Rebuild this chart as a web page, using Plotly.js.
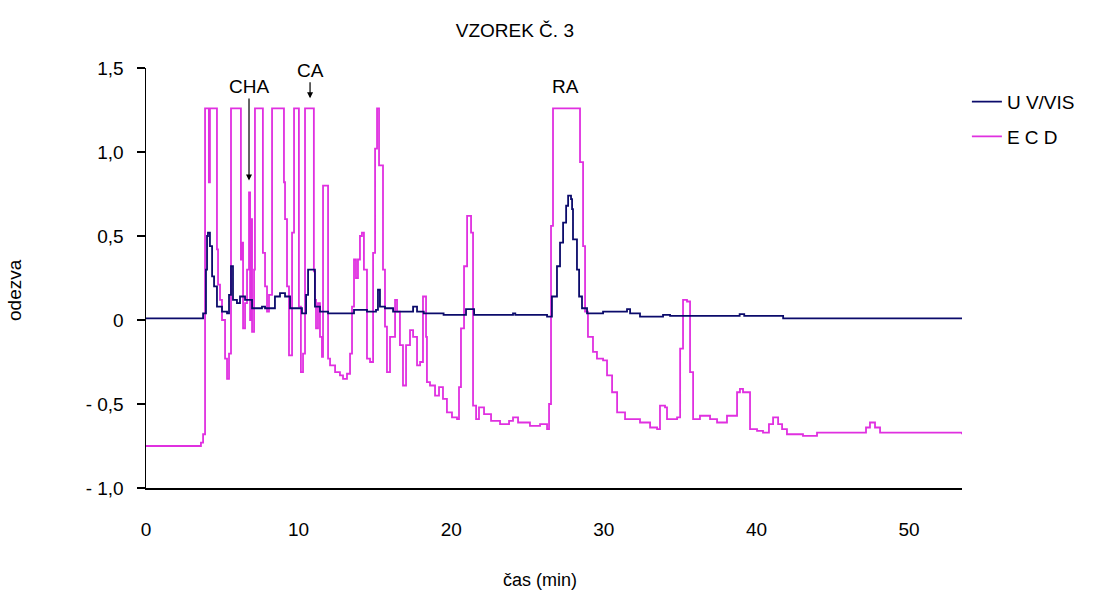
<!DOCTYPE html>
<html>
<head>
<meta charset="utf-8">
<script src="https://cdn.plot.ly/plotly-3.0.1.min.js"></script>
<style>html,body{margin:0;padding:0;background:#fff;}#chart{width:1105px;height:599px;}</style>
</head>
<body>
<div id="chart"></div>
<script>
// ---- data (time in min, response) ----
const uvTime = [0,3.54,3.74,3.93,4.00,4.06,4.19,4.33,4.46,4.65,4.98,5.31,5.44,5.57,5.70,5.96,6.16,6.49,6.95,7.60,7.80,8.26,8.45,8.78,9.11,9.44,10.22,10.49,10.62,10.94,11.07,11.40,11.93,13.17,13.63,14.48,15.07,15.20,15.33,15.66,16.19,17.30,17.50,17.76,18.20,19.50,20.77,20.97,21.30,21.50,23.90,24.05,24.20,26.28,26.60,26.93,27.13,27.33,27.53,27.66,27.85,27.92,27.98,28.24,28.38,28.57,28.90,29.95,31.39,31.52,31.72,32.37,33.49,33.88,34.34,38.73,38.90,39.20,41.68,41.75,53.47];
const uvValue = [0.01,0.01,0.04,0.30,0.50,0.52,0.44,0.26,0.20,0.08,0.05,0.04,0.15,0.32,0.12,0.10,0.14,0.12,0.07,0.08,0.07,0.07,0.14,0.16,0.14,0.07,0.04,0.15,0.30,0.30,0.08,0.05,0.04,0.04,0.06,0.05,0.06,0.18,0.08,0.07,0.05,0.05,0.08,0.05,0.04,0.03,0.03,0.065,0.065,0.03,0.03,0.04,0.03,0.02,0.14,0.32,0.46,0.58,0.68,0.74,0.72,0.66,0.48,0.30,0.14,0.07,0.04,0.05,0.05,0.065,0.04,0.02,0.02,0.03,0.025,0.025,0.035,0.025,0.025,0.01,0.01];

const ecdTime = [0,3.54,3.60,3.74,3.87,4.06,4.12,4.19,4.59,4.65,4.72,4.85,4.98,5.18,5.31,5.44,5.57,6.16,6.22,6.29,6.36,6.49,6.62,6.75,6.82,6.88,6.95,7.08,7.14,7.60,7.66,7.80,7.93,8.06,8.26,8.98,9.04,9.11,9.24,9.37,9.57,9.70,9.96,10.02,10.15,10.29,10.42,10.94,11.00,11.07,11.14,11.27,11.40,11.53,11.60,11.86,11.93,12.06,12.39,12.71,12.91,13.17,13.37,13.50,13.63,13.76,13.89,14.02,14.15,14.28,14.48,14.68,14.88,15.01,15.14,15.27,15.53,15.66,15.79,15.99,16.19,16.32,16.45,16.64,16.84,17.04,17.30,17.50,17.76,17.96,18.15,18.35,18.41,18.61,18.94,19.20,19.46,19.72,20.05,20.38,20.51,20.64,20.84,21.04,21.17,21.30,21.43,21.63,21.82,22.15,22.61,23.20,23.79,24.05,24.38,25.16,25.82,26.28,26.41,26.54,26.67,28.38,28.44,28.64,28.77,28.96,29.29,29.55,29.95,30.21,30.54,30.87,31.39,32.37,33.03,33.49,33.68,34.01,34.14,34.80,35.00,35.19,35.45,35.65,35.85,36.30,36.96,37.42,38.07,38.40,38.73,38.92,39.12,39.58,40.04,40.43,40.82,41.09,41.42,41.68,42.00,43.05,43.97,46.99,47.18,47.44,47.77,48.10,53.47];
const ecdValue = [-0.75,-0.75,-0.73,-0.68,1.26,1.26,0.82,1.26,1.26,0.42,0.21,0.12,0.00,-0.23,-0.35,-0.20,1.26,1.26,0.36,0.46,-0.05,0.10,0.30,0.76,0.00,0.60,-0.07,0.30,1.26,1.26,0.40,0.20,0.05,0.15,1.26,1.26,0.82,0.60,0.20,-0.21,0.52,1.26,1.26,0.08,-0.31,-0.20,1.26,1.26,0.29,0.12,-0.05,0.10,-0.10,-0.22,0.80,0.80,-0.23,-0.27,-0.31,-0.33,-0.35,-0.32,-0.20,0.08,0.36,0.25,0.36,0.50,0.52,0.30,-0.23,-0.25,0.40,1.02,1.26,0.92,0.30,-0.04,-0.31,-0.10,-0.10,0.12,0.05,-0.15,-0.39,-0.15,-0.06,-0.10,-0.27,-0.25,0.14,-0.10,-0.37,-0.39,-0.45,-0.40,-0.47,-0.55,-0.58,-0.59,-0.40,-0.05,0.32,0.62,0.62,0.52,-0.51,-0.59,-0.52,-0.56,-0.60,-0.62,-0.60,-0.58,-0.61,-0.63,-0.62,-0.65,-0.50,0.56,1.26,1.26,0.94,0.44,0.05,-0.10,-0.19,-0.23,-0.24,-0.33,-0.43,-0.55,-0.59,-0.61,-0.64,-0.65,-0.51,-0.52,-0.59,-0.58,-0.17,0.12,0.11,-0.31,-0.59,-0.57,-0.59,-0.61,-0.57,-0.57,-0.43,-0.41,-0.43,-0.65,-0.66,-0.67,-0.62,-0.58,-0.62,-0.65,-0.68,-0.69,-0.67,-0.67,-0.64,-0.61,-0.64,-0.67,-0.68];

const seriesNames = ["U V/VIS", "E C D"];
const yTickVals = [1.5, 1.0, 0.5, 0, -0.5, -1.0];
const yTickText = ["1,5", "1,0", "0,5", "0", "- 0,5", "- 1,0"];
const xTickVals = [0, 10, 20, 30, 40, 50];
const xTickText = ["0", "10", "20", "30", "40", "50"];

const FONT = "Liberation Sans, Arial, sans-serif";

const traces = [
  {x: ecdTime, y: ecdValue, name: seriesNames[1], type: "scatter", mode: "lines",
   line: {color: "#E030E0", width: 1.8, shape: "hv"}, legend: "legend2"},
  {x: uvTime, y: uvValue, name: seriesNames[0], type: "scatter", mode: "lines",
   line: {color: "#0B0B6B", width: 1.8, shape: "hv"}, legend: "legend"}
];

const layout = {
  width: 1105, height: 599,
  margin: {l: 146, r: 143, t: 68, b: 111},
  paper_bgcolor: "#fff", plot_bgcolor: "#fff",
  font: {family: FONT, size: 19, color: "#000"},
  title: {text: "VZOREK Č. 3", font: {family: FONT, size: 19, color: "#000"},
          xref: "paper", x: 0.452, xanchor: "center", yref: "container", y: 0.95, yanchor: "middle"},
  xaxis: {range: [0, 53.47], showgrid: false, zeroline: false, showline: true,
          linecolor: "#000", linewidth: 1.5, tickvals: xTickVals, ticktext: xTickText,
          ticks: "outside", ticklen: 24, tickcolor: "rgba(0,0,0,0)", tickfont: {size: 19}},
  yaxis: {range: [-1.0, 1.5], showgrid: false, zeroline: false, showline: true,
          linecolor: "#000", linewidth: 1.5, tickvals: yTickVals, ticktext: yTickText,
          ticks: "outside", ticklen: 8, tickcolor: "#000", tickwidth: 1.5,
          ticklabelstandoff: 9, tickfont: {size: 19}},
  legend: {x: 1.006, xanchor: "left", y: 0.965, yanchor: "top", bgcolor: "rgba(0,0,0,0)",
           font: {family: FONT, size: 19}},
  legend2: {x: 1.006, xanchor: "left", y: 0.882, yanchor: "top", bgcolor: "rgba(0,0,0,0)",
            font: {family: FONT, size: 19}},
  showlegend: true,
  annotations: [
    {text: "čas (min)", xref: "paper", yref: "paper", x: (540-146)/816, y: -(580-488)/420,
     xanchor: "center", yanchor: "middle", showarrow: false, font: {size: 18}},
    {text: "odezva", xref: "paper", yref: "paper", x: -(146-14)/816, y: (488-290)/420,
     xanchor: "center", yanchor: "middle", textangle: -90, showarrow: false, font: {size: 19}},
    {text: "CHA", x: 6.75, y: 0.83, xref: "x", yref: "y", ax: 0, ay: -94,
     showarrow: true, arrowhead: 2, arrowsize: 1, arrowwidth: 1.2, arrowcolor: "#000", font: {size: 19}},
    {text: "CA", x: 10.75, y: 1.32, xref: "x", yref: "y", ax: 0, ay: -28,
     showarrow: true, arrowhead: 2, arrowsize: 1, arrowwidth: 1.2, arrowcolor: "#000", font: {size: 19}},
    {text: "RA", x: 27.52, y: 1.39, xref: "x", yref: "y", showarrow: false, font: {size: 19}}
  ]
};

Plotly.newPlot("chart", traces, layout, {displayModeBar: false, staticPlot: true});
</script>
</body>
</html>
